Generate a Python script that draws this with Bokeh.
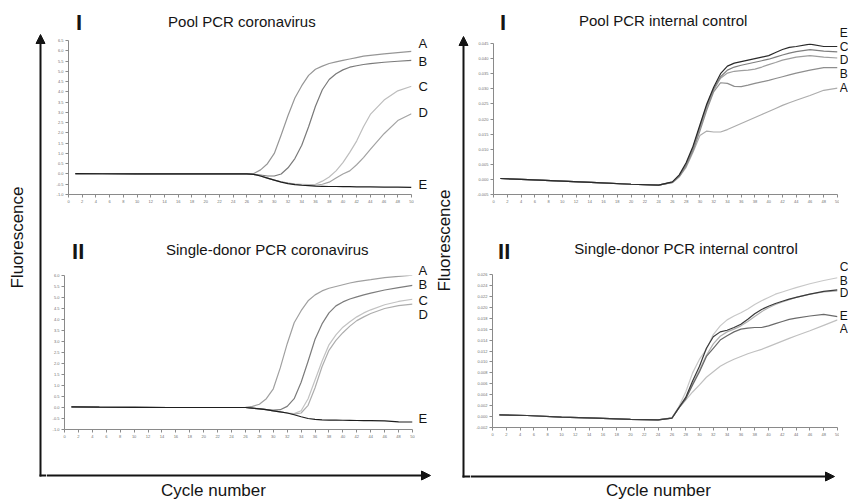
import math
from bokeh.plotting import figure
from bokeh.layouts import row, column
from bokeh.models import Range1d, Label, Arrow, NormalHead, FixedTicker, PrintfTickFormatter
from bokeh.embed import file_html
from bokeh.resources import INLINE

# ---------------- data ----------------
CYCLES = [1, 5, 10, 15, 20, 24, 26, 27, 28, 29, 30, 31, 32, 33, 34, 35, 36, 37, 38, 39, 40, 41, 42, 43, 44, 46, 48, 50]
X_TICKS = list(range(0, 51, 2))
SERIES_NAMES = ["A", "B", "C", "D", "E"]

# I - Pool PCR coronavirus
POOL_COV_A = [0.02, 0.01, 0.0, 0.0, 0.0, 0.0, 0.0, 0.02, 0.2, 0.5, 1.0, 1.9, 2.85, 3.7, 4.3, 4.8, 5.1, 5.25, 5.38, 5.46, 5.53, 5.6, 5.67, 5.74, 5.78, 5.85, 5.91, 5.97]
POOL_COV_B = [0.02, 0.01, 0.0, 0.0, 0.0, 0.0, 0.0, -0.02, -0.05, -0.1, -0.1, 0.0, 0.3, 0.75, 1.4, 2.3, 3.3, 4.1, 4.6, 4.88, 5.07, 5.2, 5.27, 5.33, 5.37, 5.44, 5.49, 5.53]
POOL_COV_C = [0.02, 0.01, 0.0, 0.0, 0.0, 0.0, 0.0, -0.02, -0.1, -0.2, -0.3, -0.38, -0.44, -0.48, -0.5, -0.52, -0.5, -0.35, -0.15, 0.15, 0.55, 1.05, 1.6, 2.3, 2.9, 3.6, 4.05, 4.27]
POOL_COV_D = [0.02, 0.01, 0.0, 0.0, 0.0, 0.0, 0.0, -0.02, -0.1, -0.2, -0.3, -0.38, -0.45, -0.5, -0.53, -0.55, -0.55, -0.5, -0.4, -0.2, 0.0, 0.15, 0.45, 0.8, 1.2, 1.96, 2.6, 2.93]
POOL_COV_E = [0.02, 0.01, 0.0, 0.0, 0.0, 0.0, 0.0, -0.02, -0.1, -0.2, -0.3, -0.4, -0.47, -0.52, -0.55, -0.57, -0.59, -0.6, -0.61, -0.61, -0.62, -0.62, -0.63, -0.63, -0.63, -0.64, -0.64, -0.65]
POOL_COV_YTICKS = [-1.0, -0.5, 0.0, 0.5, 1.0, 1.5, 2.0, 2.5, 3.0, 3.5, 4.0, 4.5, 5.0, 5.5, 6.0, 6.5]

# II - Single-donor PCR coronavirus
SINGLE_COV_A = [0.03, 0.02, 0.01, 0.0, 0.0, 0.0, 0.01, 0.05, 0.15, 0.4, 0.85, 1.8, 2.9, 3.85, 4.4, 4.85, 5.12, 5.3, 5.42, 5.5, 5.58, 5.66, 5.72, 5.77, 5.81, 5.9, 5.96, 6.02]
SINGLE_COV_B = [0.03, 0.02, 0.01, 0.0, 0.0, 0.0, 0.0, -0.03, -0.05, -0.1, -0.12, -0.1, 0.05, 0.4, 1.15, 2.1, 3.1, 3.8, 4.3, 4.62, 4.8, 4.93, 5.03, 5.12, 5.2, 5.34, 5.45, 5.55]
SINGLE_COV_C = [0.03, 0.02, 0.01, 0.0, 0.0, 0.0, 0.0, -0.03, -0.06, -0.1, -0.15, -0.2, -0.25, -0.28, -0.15, 0.4, 1.25, 2.1, 2.85, 3.3, 3.65, 3.9, 4.12, 4.3, 4.44, 4.67, 4.82, 4.92]
SINGLE_COV_D = [0.03, 0.02, 0.01, 0.0, 0.0, 0.0, 0.0, -0.03, -0.06, -0.1, -0.15, -0.2, -0.25, -0.3, -0.25, 0.1, 0.9, 1.85, 2.6, 3.05, 3.4, 3.7, 3.95, 4.12, 4.27, 4.5, 4.63, 4.7]
SINGLE_COV_E = [0.03, 0.02, 0.01, 0.0, 0.0, 0.0, 0.0, -0.03, -0.06, -0.1, -0.15, -0.2, -0.25, -0.33, -0.42, -0.5, -0.54, -0.56, -0.57, -0.575, -0.58, -0.585, -0.59, -0.595, -0.6, -0.61, -0.65, -0.66]
SINGLE_COV_YTICKS = [-1.0, -0.5, 0.0, 0.5, 1.0, 1.5, 2.0, 2.5, 3.0, 3.5, 4.0, 4.5, 5.0, 5.5, 6.0]

# I - Pool PCR internal control
POOL_IC_A = [0.0003, -0.0001, -0.0006, -0.0011, -0.0016, -0.0019, -0.0011, 0.0008, 0.004, 0.009, 0.0145, 0.016, 0.0157, 0.0157, 0.0165, 0.0175, 0.0185, 0.0195, 0.0205, 0.0215, 0.0225, 0.0235, 0.0245, 0.0254, 0.0262, 0.0278, 0.0295, 0.0302]
POOL_IC_B = [0.0003, -0.0001, -0.0006, -0.0011, -0.0016, -0.0019, -0.001, 0.001, 0.0045, 0.0095, 0.016, 0.023, 0.029, 0.032, 0.0318, 0.0308, 0.0307, 0.0312, 0.0318, 0.0323, 0.0328, 0.0334, 0.034, 0.0346, 0.0352, 0.0362, 0.037, 0.037]
POOL_IC_C = [0.0003, -0.0001, -0.0006, -0.0011, -0.0016, -0.0019, -0.0009, 0.0012, 0.005, 0.0105, 0.0175, 0.0245, 0.03, 0.034, 0.0362, 0.0372, 0.0378, 0.0383, 0.0388, 0.0393, 0.0398, 0.0405, 0.0412, 0.0418, 0.0423, 0.043, 0.0425, 0.0422]
POOL_IC_D = [0.0003, -0.0001, -0.0006, -0.0011, -0.0016, -0.0019, -0.001, 0.001, 0.0045, 0.0098, 0.0168, 0.0238, 0.0295, 0.0335, 0.0352, 0.0358, 0.036, 0.0362, 0.0365, 0.0372, 0.038, 0.0387, 0.0395, 0.04, 0.0405, 0.041, 0.0405, 0.0402]
POOL_IC_E = [0.0003, -0.0001, -0.0006, -0.0011, -0.0016, -0.0019, -0.0008, 0.0015, 0.0055, 0.011, 0.018, 0.025, 0.0305, 0.035, 0.0375, 0.0385, 0.039, 0.0395, 0.04, 0.0405, 0.041, 0.042, 0.043, 0.0437, 0.044, 0.0448, 0.044, 0.044]
POOL_IC_YTICKS = [-0.005, 0.0, 0.005, 0.010, 0.015, 0.020, 0.025, 0.030, 0.035, 0.040, 0.045]

# II - Single-donor PCR internal control
SINGLE_IC_A = [0.0003, 0.0002, -0.0001, -0.0003, -0.0005, -0.0006, -0.0003, 0.0015, 0.003, 0.0045, 0.0058, 0.0072, 0.0082, 0.0092, 0.0099, 0.0105, 0.011, 0.0115, 0.0119, 0.0123, 0.0128, 0.0133, 0.0138, 0.0143, 0.0148, 0.0157, 0.0167, 0.0177]
SINGLE_IC_B = [0.0003, 0.0002, -0.0001, -0.0003, -0.0005, -0.0006, -0.0003, 0.0016, 0.0035, 0.0065, 0.0092, 0.0125, 0.0146, 0.0155, 0.0158, 0.0163, 0.0169, 0.0178, 0.0188, 0.0196, 0.0202, 0.0207, 0.0211, 0.0215, 0.0218, 0.0224, 0.0229, 0.0232]
SINGLE_IC_C = [0.0003, 0.0002, -0.0001, -0.0003, -0.0005, -0.0006, -0.0002, 0.0018, 0.0045, 0.008, 0.0105, 0.0123, 0.015, 0.0166, 0.0177, 0.0184, 0.019, 0.0197, 0.0205, 0.0212, 0.0218, 0.0224, 0.0228, 0.0232, 0.0236, 0.0243, 0.0249, 0.0254]
SINGLE_IC_D = [0.0003, 0.0002, -0.0001, -0.0003, -0.0005, -0.0006, -0.0003, 0.0016, 0.0033, 0.006, 0.0085, 0.0112, 0.0133, 0.0147, 0.0155, 0.016, 0.0166, 0.0174, 0.0183, 0.0192, 0.0199, 0.0205, 0.021, 0.0214, 0.0218, 0.0224, 0.0228, 0.023]
SINGLE_IC_E = [0.0003, 0.0002, -0.0001, -0.0003, -0.0005, -0.0006, -0.0003, 0.0016, 0.0032, 0.0058, 0.0082, 0.011, 0.0125, 0.014, 0.0148, 0.0155, 0.016, 0.0162, 0.0163, 0.0163, 0.0166, 0.017, 0.0174, 0.0178, 0.018, 0.0184, 0.0187, 0.0183]
SINGLE_IC_YTICKS = [-0.002, 0.0, 0.002, 0.004, 0.006, 0.008, 0.010, 0.012, 0.014, 0.016, 0.018, 0.020, 0.022, 0.024, 0.026]

# ---------------- styling helpers ----------------
FONT = "Liberation Sans"
INK = "#141414"


def strip(ox, oy, w, h):
    """A decoration-only figure whose data coordinates are page pixels."""
    p = figure(width=w, height=h, x_range=Range1d(ox, ox + w), y_range=Range1d(oy + h, oy),
               output_backend="svg", toolbar_location=None, min_border=0,
               x_axis_type=None, y_axis_type=None)
    p.outline_line_color = None
    p.background_fill_color = "white"
    p.border_fill_color = "white"
    return p


def add_text(p, x, y, s, size, align="center", baseline="middle", angle=0.0, color=INK, style="normal"):
    p.add_layout(Label(x=x, y=y, text=s, text_font=FONT, text_font_size=f"{size}px",
                       text_font_style=style, text_color=color, text_align=align,
                       text_baseline=baseline, angle=angle))


def add_arrow(p, x0, y0, x1, y1, head=True):
    end = NormalHead(size=9, fill_color=INK, line_color=INK, line_width=1) if head else None
    p.add_layout(Arrow(x_start=x0, y_start=y0, x_end=x1, y_end=y1, end=end,
                       line_color=INK, line_width=2))


def panel(w, h, fl, ft, fw, fh, yticks, yfmt, series, colors):
    p = figure(width=w, height=h, x_range=Range1d(0, 50),
               y_range=Range1d(yticks[0], yticks[-1]),
               output_backend="svg", toolbar_location=None,
               min_border_left=fl, min_border_right=w - fl - fw,
               min_border_top=ft, min_border_bottom=h - ft - fh)
    p.outline_line_color = None
    p.xgrid.visible = False
    p.ygrid.visible = False
    p.background_fill_color = "white"
    p.border_fill_color = "white"
    p.xaxis.ticker = FixedTicker(ticks=X_TICKS)
    p.yaxis.ticker = FixedTicker(ticks=yticks)
    p.yaxis.formatter = PrintfTickFormatter(format=yfmt)
    for ax in (p.xaxis[0], p.yaxis[0]):
        ax.axis_line_color = "#8a8a8a"
        ax.axis_line_width = 1
        ax.major_tick_line_color = "#8a8a8a"
        ax.major_tick_in = 0
        ax.major_tick_out = 3
        ax.minor_tick_line_color = None
        ax.major_label_text_font_size = "4px"
        ax.major_label_text_color = "#707070"
        ax.major_label_text_font = FONT
        ax.major_label_standoff = 2
    order = sorted(range(len(series)), key=lambda i: colors[i], reverse=True)  # light first, dark last
    for i in order:
        p.line(CYCLES, series[i], line_color=colors[i], line_width=1.2)
    return p


# ---------------- top-left: I Pool PCR coronavirus ----------------
t_tl = strip(46, 0, 368, 35)
add_text(t_tl, 54, 22, "I", 22, align="left", style="bold")
add_text(t_tl, 232, 21, "Pool PCR coronavirus", 15)
p_tl = panel(368, 205, 22, 5, 343, 154, POOL_COV_YTICKS, "%.1f",
             [POOL_COV_A, POOL_COV_B, POOL_COV_C, POOL_COV_D, POOL_COV_E],
             ["#969696", "#7a7a7a", "#bdbdbd", "#a3a3a3", "#1e1e1e"])
l_tl = strip(414, 0, 19, 240)
for name, yy in zip(SERIES_NAMES, [43, 61, 86, 112, 184]):
    add_text(l_tl, 418, yy, name, 13, align="left")
block_tl = row(column(t_tl, p_tl), l_tl)

# ---------------- bottom-left: II Single-donor PCR coronavirus ----------------
t_bl = strip(46, 240, 369, 32)
add_text(t_bl, 54, 251, "II", 22, align="left", style="bold")
add_text(t_bl, 261, 249, "Single-donor PCR coronavirus", 15)
p_bl = panel(369, 169, 18, 3, 348, 154, SINGLE_COV_YTICKS, "%.1f",
             [SINGLE_COV_A, SINGLE_COV_B, SINGLE_COV_C, SINGLE_COV_D, SINGLE_COV_E],
             ["#a0a0a0", "#7c7c7c", "#c2c2c2", "#adadad", "#1e1e1e"])
l_bl = strip(415, 240, 18, 201)
for name, yy in zip(SERIES_NAMES, [270, 284, 300, 314, 418]):
    add_text(l_bl, 418, yy, name, 13, align="left")
b_l = strip(46, 441, 387, 61)
add_arrow(b_l, 46, 475, 430, 475)
add_text(b_l, 213, 499, "Cycle number", 17, baseline="bottom")
block_bl = column(row(column(t_bl, p_bl), l_bl), b_l)

# ---------------- top-right: I Pool PCR internal control ----------------
t_tr = strip(470, 0, 369, 35)
add_text(t_tr, 477, 22, "I", 22, align="left", style="bold")
add_text(t_tr, 652, 20, "Pool PCR internal control", 15)
p_tr = panel(369, 205, 23, 8, 344, 151, POOL_IC_YTICKS, "%.3f",
             [POOL_IC_A, POOL_IC_B, POOL_IC_C, POOL_IC_D, POOL_IC_E],
             ["#acacac", "#8e8e8e", "#7e7e7e", "#9e9e9e", "#2a2a2a"])
l_tr = strip(839, 0, 9, 240)
for name, yy in zip(SERIES_NAMES, [87, 73, 46, 59, 32]):
    add_text(l_tr, 839.3, yy, name, 12, align="left")
block_tr = row(column(t_tr, p_tr), l_tr)

# ---------------- bottom-right: II Single-donor PCR internal control ----------------
t_br = strip(470, 240, 369, 31)
add_text(t_br, 476, 251, "II", 22, align="left", style="bold")
add_text(t_br, 677, 248, "Single-donor PCR internal control", 15)
p_br = panel(369, 171, 22, 3, 345, 153, SINGLE_IC_YTICKS, "%.3f",
             [SINGLE_IC_A, SINGLE_IC_B, SINGLE_IC_C, SINGLE_IC_D, SINGLE_IC_E],
             ["#c0c0c0", "#3a3a3a", "#c8c8c8", "#b0b0b0", "#6a6a6a"])
l_br = strip(839, 240, 9, 202)
for name, yy in zip(SERIES_NAMES, [328, 280, 266, 292, 315]):
    add_text(l_br, 839.3, yy, name, 12, align="left")
b_r = strip(470, 442, 378, 60)
add_arrow(b_r, 470, 476, 834, 476)
add_text(b_r, 658, 499, "Cycle number", 17, baseline="bottom")
block_br = column(row(column(t_br, p_br), l_br), b_r)

# ---------------- strips with the long vertical axes ----------------
s_l = strip(0, 0, 46, 502)
add_text(s_l, 17, 237, "Fluorescence", 17, angle=math.pi / 2)
add_arrow(s_l, 40, 476, 40, 34)
add_arrow(s_l, 39, 475, 46, 475, head=False)

s_m = strip(433, 0, 37, 502)
add_text(s_m, 444, 240, "Fluorescence", 17, angle=math.pi / 2)
add_arrow(s_m, 463, 477, 463, 36)
add_arrow(s_m, 462, 476, 470, 476, head=False)

layout = row(s_l, column(block_tl, block_bl), s_m, column(block_tr, block_br))

open("out.html", "w").write(file_html(layout, INLINE))
